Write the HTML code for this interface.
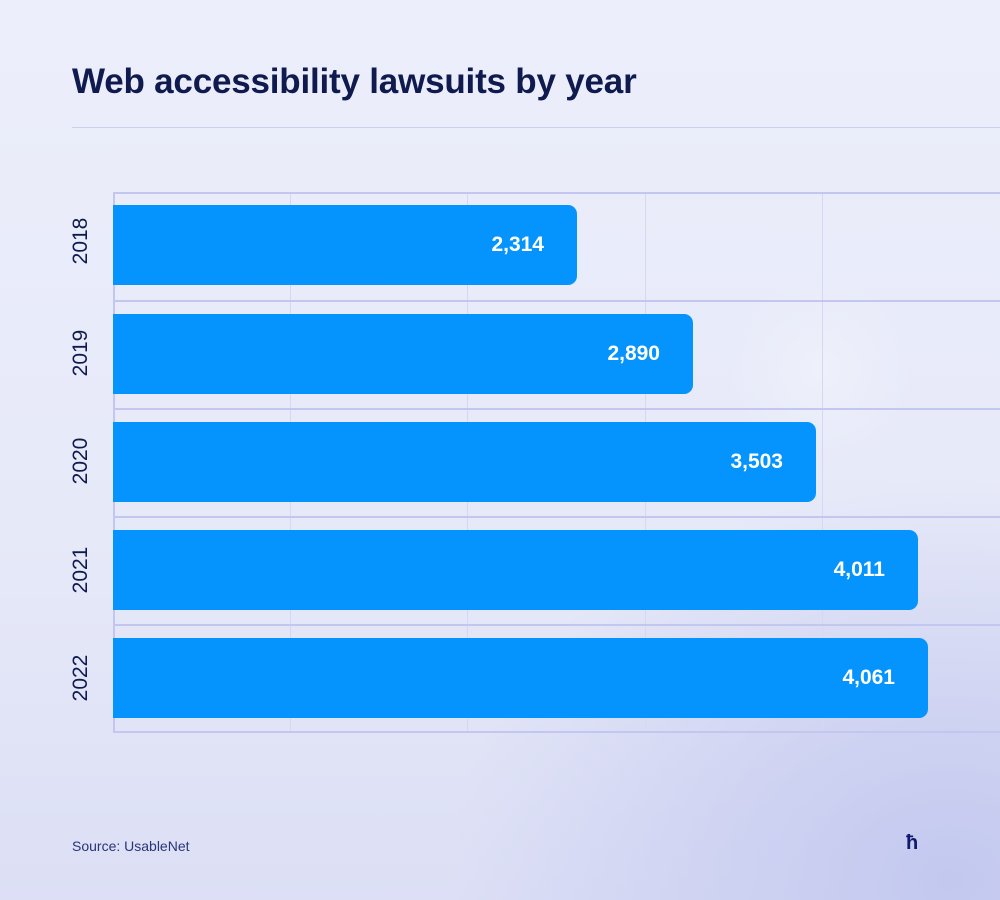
<!DOCTYPE html>
<html><head><style>
body{margin:0}
.c{position:relative;width:1000px;height:900px;overflow:hidden;font-family:"Liberation Sans",sans-serif;
background:radial-gradient(ellipse 500px 400px at 950px 880px,#c3c8ef 0%,rgba(200,205,240,0) 100%),radial-gradient(circle 90px at 820px 370px,#eef0fb,rgba(238,240,251,0)),linear-gradient(180deg,#eceefb 0%,#e6e9f8 60%,#dcdff5 100%)}
.t{position:absolute;left:72px;top:62px;font-size:35px;font-weight:bold;color:#0f1a4f;letter-spacing:-0.2px}
.hr{position:absolute;left:72px;right:0;top:127px;height:1px;background:#ccd0ef}
.bar{position:absolute;left:113px;height:80px;background:#0594fd;border-radius:0 9px 9px 0;color:#fff;font-weight:bold;font-size:21px;line-height:80px;text-align:right;box-sizing:border-box;padding-right:33px}
.h{position:absolute;left:113px;right:0;height:2px;background:#c3c7ef}
.v{position:absolute;top:193px;height:539px;width:1px;background:#d5d8f3}
.y{position:absolute;left:81px;transform:translate(-50%,-50%) rotate(-90deg);font-size:21px;color:#0f1a4f}
.s{position:absolute;left:72px;top:838px;font-size:14px;color:#2a3478}
</style></head><body><div class="c">
<div class="t">Web accessibility lawsuits by year</div>
<div class="hr"></div>
<div class="v" style="left:113px;width:2px;background:#c3c7ef"></div>
<div class="v" style="left:290px"></div><div class="v" style="left:467px"></div><div class="v" style="left:645px"></div><div class="v" style="left:822px"></div>
<div class="h" style="top:192px"></div><div class="h" style="top:300px"></div><div class="h" style="top:408px"></div><div class="h" style="top:516px"></div><div class="h" style="top:624px"></div><div class="h" style="top:731px"></div>
<div class="bar" style="top:205px;width:464px">2,314</div>
<div class="bar" style="top:314px;width:580px">2,890</div>
<div class="bar" style="top:422px;width:703px">3,503</div>
<div class="bar" style="top:530px;width:805px">4,011</div>
<div class="bar" style="top:638px;width:815px">4,061</div>
<div class="y" style="top:241px">2018</div>
<div class="y" style="top:353px">2019</div>
<div class="y" style="top:461px">2020</div>
<div class="y" style="top:570px">2021</div>
<div class="y" style="top:678px">2022</div>
<div class="s">Source: UsableNet</div>
<div style="position:absolute;left:906px;top:832px;font-size:20px;font-weight:bold;color:#0f1a6f">ħ</div>
</div></body></html>
